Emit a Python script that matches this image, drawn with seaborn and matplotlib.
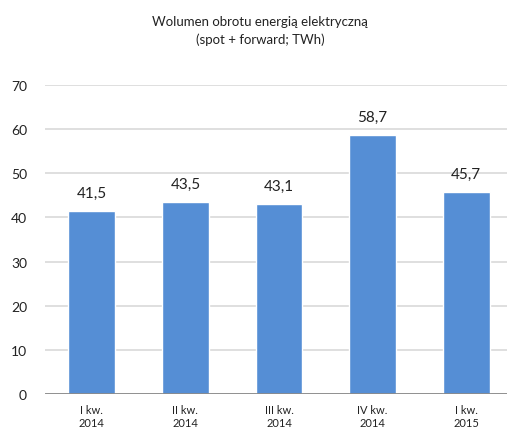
import matplotlib

matplotlib.use("Agg")
import matplotlib.pyplot as plt
import pandas as pd
import seaborn as sns

quarters = ["I kw.\n2014", "II kw.\n2014", "III kw.\n2014", "IV kw.\n2014", "I kw.\n2015"]
volume = [41.5, 43.5, 43.1, 58.7, 45.7]
y_ticks = [0, 10, 20, 30, 40, 50, 60, 70]

BAR = "#558ed5"
GRID = "#d9d9d9"
AXIS = "#898989"

sns.set_theme(style="white")
plt.rcParams["font.family"] = ["Lato", "DejaVu Sans"]

df = pd.DataFrame({"quarter": quarters, "volume": volume})

fig = plt.figure(figsize=(5.07, 4.39), dpi=100)
ax = fig.add_axes([45 / 507, 1 - 395 / 439, 1 - 45 / 507, (395 - 86) / 439])

sns.barplot(data=df, x="quarter", y="volume", color=BAR, width=0.5,
            saturation=1, ax=ax, zorder=3)

for i, v in enumerate(volume):
    ax.annotate(f"{v:.1f}".replace(".", ","), (i, v), xytext=(0, 8),
                textcoords="offset points", ha="center", va="bottom",
                fontsize=11, color="#222222")

ax.set_ylim(0, 70)
ax.set_xlim(-0.5, 4.5 - 6 / 93.75)
ax.set_yticks(y_ticks)
ax.yaxis.grid(True, color=GRID, linewidth=1.2, zorder=0)
ax.axhline(0, color=AXIS, linewidth=2, zorder=4)
for s in ax.spines.values():
    s.set_visible(False)

ax.tick_params(axis="y", length=0, pad=13, labelsize=10, labelcolor="#222222")
ax.tick_params(axis="x", length=0, pad=7, labelsize=8, labelcolor="#222222")
ax.set_xlabel("")
ax.set_ylabel("")

fig.text(260 / 507, 1 - 31 / 439, "Wolumen obrotu energią elektryczną\n(spot + forward; TWh)",
         ha="center", va="center", fontsize=9.5, color="#222222", linespacing=1.5)

fig.savefig("out.png", dpi=100)
